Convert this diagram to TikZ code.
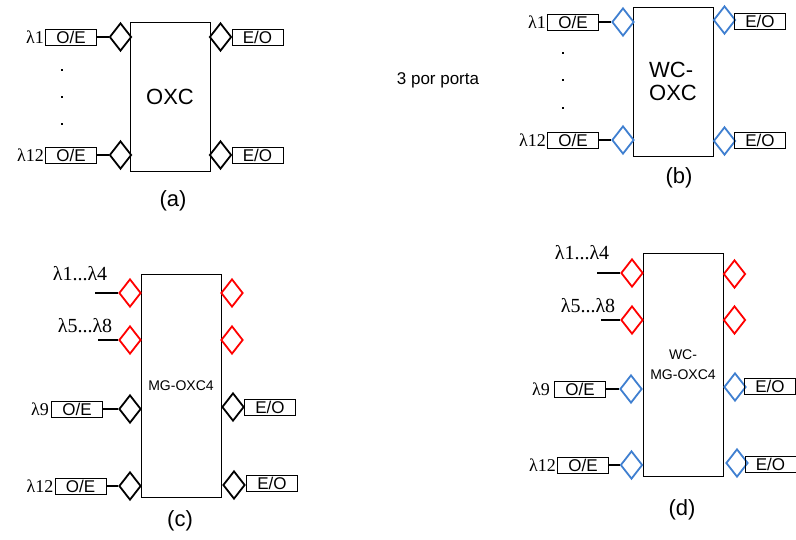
\documentclass[tikz,border=0pt]{standalone}
\usepackage{fontspec}
\setmainfont{Liberation Sans}
\newfontfamily\lamfont{Liberation Serif}
\usetikzlibrary{shapes.geometric}
\definecolor{portRed}{HTML}{FF0000}
\definecolor{portBlue}{HTML}{3F7FD0}
\definecolor{portLine}{HTML}{000000}
\tikzset{
  oxcfig/.style={
    x=1pt, y=-1pt,
    every node/.append style={inner sep=0pt},
  },
  xcbox/.style={
    draw=portLine, line width=0.8pt, minimum width=80pt,
    align=center, font=\fontsize{22}{23}\selectfont,
  },
  port/.style={diamond, draw=portLine, line width=1.8pt, minimum width=22pt, minimum height=28pt},
  redport/.style={port, draw=portRed},
  blueport/.style={port, draw=portBlue},
  conv/.style={
    draw=portLine, line width=0.8pt, minimum width=51pt, minimum height=16pt,
    font=\fontsize{17}{17}\selectfont,
  },
  lam/.style={font=\lamfont\fontsize{18}{18}\selectfont},
  lamrange/.style={font=\lamfont\fontsize{20}{20}\selectfont},
  feed/.style={draw=portLine, line width=1.5pt},
  capt/.style={font=\fontsize{22}{22}\selectfont},
  dotmark/.style={fill=portLine, minimum size=2.5pt},
}
\begin{document}
\begin{tikzpicture}[oxcfig]
  \useasboundingbox (0,0) rectangle (796,539);
  % (a) OXC
  \node[xcbox, minimum height=149pt] (OXC) at (170,96.5) {OXC};
  \node[port] (aIn1) at (120.5,37) {};
  \node[port] (aIn12) at (120.5,155) {};
  \node[port] (aOut1) at (220.5,37) {};
  \node[port] (aOut12) at (220.5,155) {};
  \node[conv] (aOE1) at (71,37) {O/E};
  \node[conv] (aOE12) at (71,155) {O/E};
  \node[conv] (aEO1) at (257.5,37) {E/O};
  \node[conv] (aEO12) at (257.5,155) {E/O};
  \node[lam, anchor=east, xshift=-1pt] (aLam1) at (aOE1.west) {λ1};
  \node[lam, anchor=east, xshift=-1pt] (aLam12) at (aOE12.west) {λ12};
  \draw[feed] (aOE1) -- (aIn1);
  \draw[feed] (aOE12) -- (aIn12);
  \foreach \y [count=\i] in {70,97,124}
    \node[dotmark] (aDot\i) at (62,\y) {};
  \node[capt] (capA) at (173,201) {(a)};
  % (b) WC-OXC
  \node[xcbox, minimum height=149pt, align=left] (WCOXC) at (673,81.5) {WC-\\OXC};
  \node[blueport] (bIn1) at (623,22) {};
  \node[blueport] (bIn12) at (623,140) {};
  \node[blueport] (bOut1) at (724.5,20) {};
  \node[blueport] (bOut12) at (724.5,141) {};
  \node[conv] (bOE1) at (573,22) {O/E};
  \node[conv] (bOE12) at (573,140) {O/E};
  \node[conv] (bEO1) at (760,21) {E/O};
  \node[conv] (bEO12) at (760,140) {E/O};
  \node[lam, anchor=east, xshift=-1pt] (bLam1) at (bOE1.west) {λ1};
  \node[lam, anchor=east, xshift=-1pt] (bLam12) at (bOE12.west) {λ12};
  \draw[feed] (bOE1) -- (bIn1);
  \draw[feed] (bOE12) -- (bIn12);
  \foreach \y [count=\i] in {53,80,108}
    \node[dotmark] (bDot\i) at (563,\y) {};
  \node[capt] (capB) at (679,178) {(b)};
  \node[font=\fontsize{17}{17}\selectfont] (perPort) at (438,80) {3 por porta};
  % (c) MG-OXC4
  \node[xcbox, minimum height=223pt, font=\fontsize{14}{16}\selectfont] (MGOXC) at (181,385.5) {MG-OXC4};
  \node[redport] (cIn1) at (130,293) {};
  \node[redport] (cIn2) at (130,340) {};
  \node[redport] (cOut1) at (232,293) {};
  \node[redport] (cOut2) at (232,340) {};
  \coordinate (cFeed1) at (95,293);
  \coordinate (cFeed2) at (98,340);
  \draw[feed] (cFeed1) -- (cIn1);
  \draw[feed] (cFeed2) -- (cIn2);
  \node[lamrange] (cLam1) at (80,274) {λ1...λ4};
  \node[lamrange] (cLam2) at (85,326) {λ5...λ8};
  \node[port] (cIn9) at (130,409) {};
  \node[port] (cIn12) at (130,486) {};
  \node[port] (cOut9) at (233,407) {};
  \node[port] (cOut12) at (234,485) {};
  \node[conv] (cOE9) at (77,409) {O/E};
  \node[conv] (cOE12) at (80.5,486) {O/E};
  \node[conv] (cEO9) at (270,407) {E/O};
  \node[conv] (cEO12) at (272,483) {E/O};
  \node[lam, anchor=east, xshift=-2pt] (cLam9) at (cOE9.west) {λ9};
  \node[lam, anchor=east, xshift=-1pt] (cLam12) at (cOE12.west) {λ12};
  \draw[feed] (cOE9) -- (cIn9);
  \draw[feed] (cOE12) -- (cIn12);
  \node[capt] (capC) at (180,521) {(c)};
  % (d) WC-MG-OXC4
  \node[xcbox, minimum height=223pt, font=\fontsize{14}{20}\selectfont] (WCMGOXC) at (683,364.5) {WC-\\MG-OXC4};
  \node[redport] (dIn1) at (632,273) {};
  \node[redport] (dIn2) at (632,320) {};
  \node[redport] (dOut1) at (734.5,274) {};
  \node[redport] (dOut2) at (734.5,320) {};
  \coordinate (dFeed1) at (597,273);
  \coordinate (dFeed2) at (601,320);
  \draw[feed] (dFeed1) -- (dIn1);
  \draw[feed] (dFeed2) -- (dIn2);
  \node[lamrange] (dLam1) at (582,253) {λ1...λ4};
  \node[lamrange] (dLam2) at (588,306) {λ5...λ8};
  \node[blueport] (dIn9) at (631,389) {};
  \node[blueport] (dIn12) at (631.5,465) {};
  \node[blueport] (dOut9) at (735,387) {};
  \node[blueport] (dOut12) at (737,463) {};
  \node[conv] (dOE9) at (580,389) {O/E};
  \node[conv] (dOE12) at (583,465) {O/E};
  \node[conv] (dEO9) at (770,386) {E/O};
  \node[conv] (dEO12) at (770.5,464) {E/O};
  \node[lam, anchor=east, xshift=-4pt] (dLam9) at (dOE9.west) {λ9};
  \node[lam, anchor=east, xshift=-1pt] (dLam12) at (dOE12.west) {λ12};
  \draw[feed] (dOE9) -- (dIn9);
  \draw[feed] (dOE12) -- (dIn12);
  \node[capt] (capD) at (682,510) {(d)};
\end{tikzpicture}
\end{document}
